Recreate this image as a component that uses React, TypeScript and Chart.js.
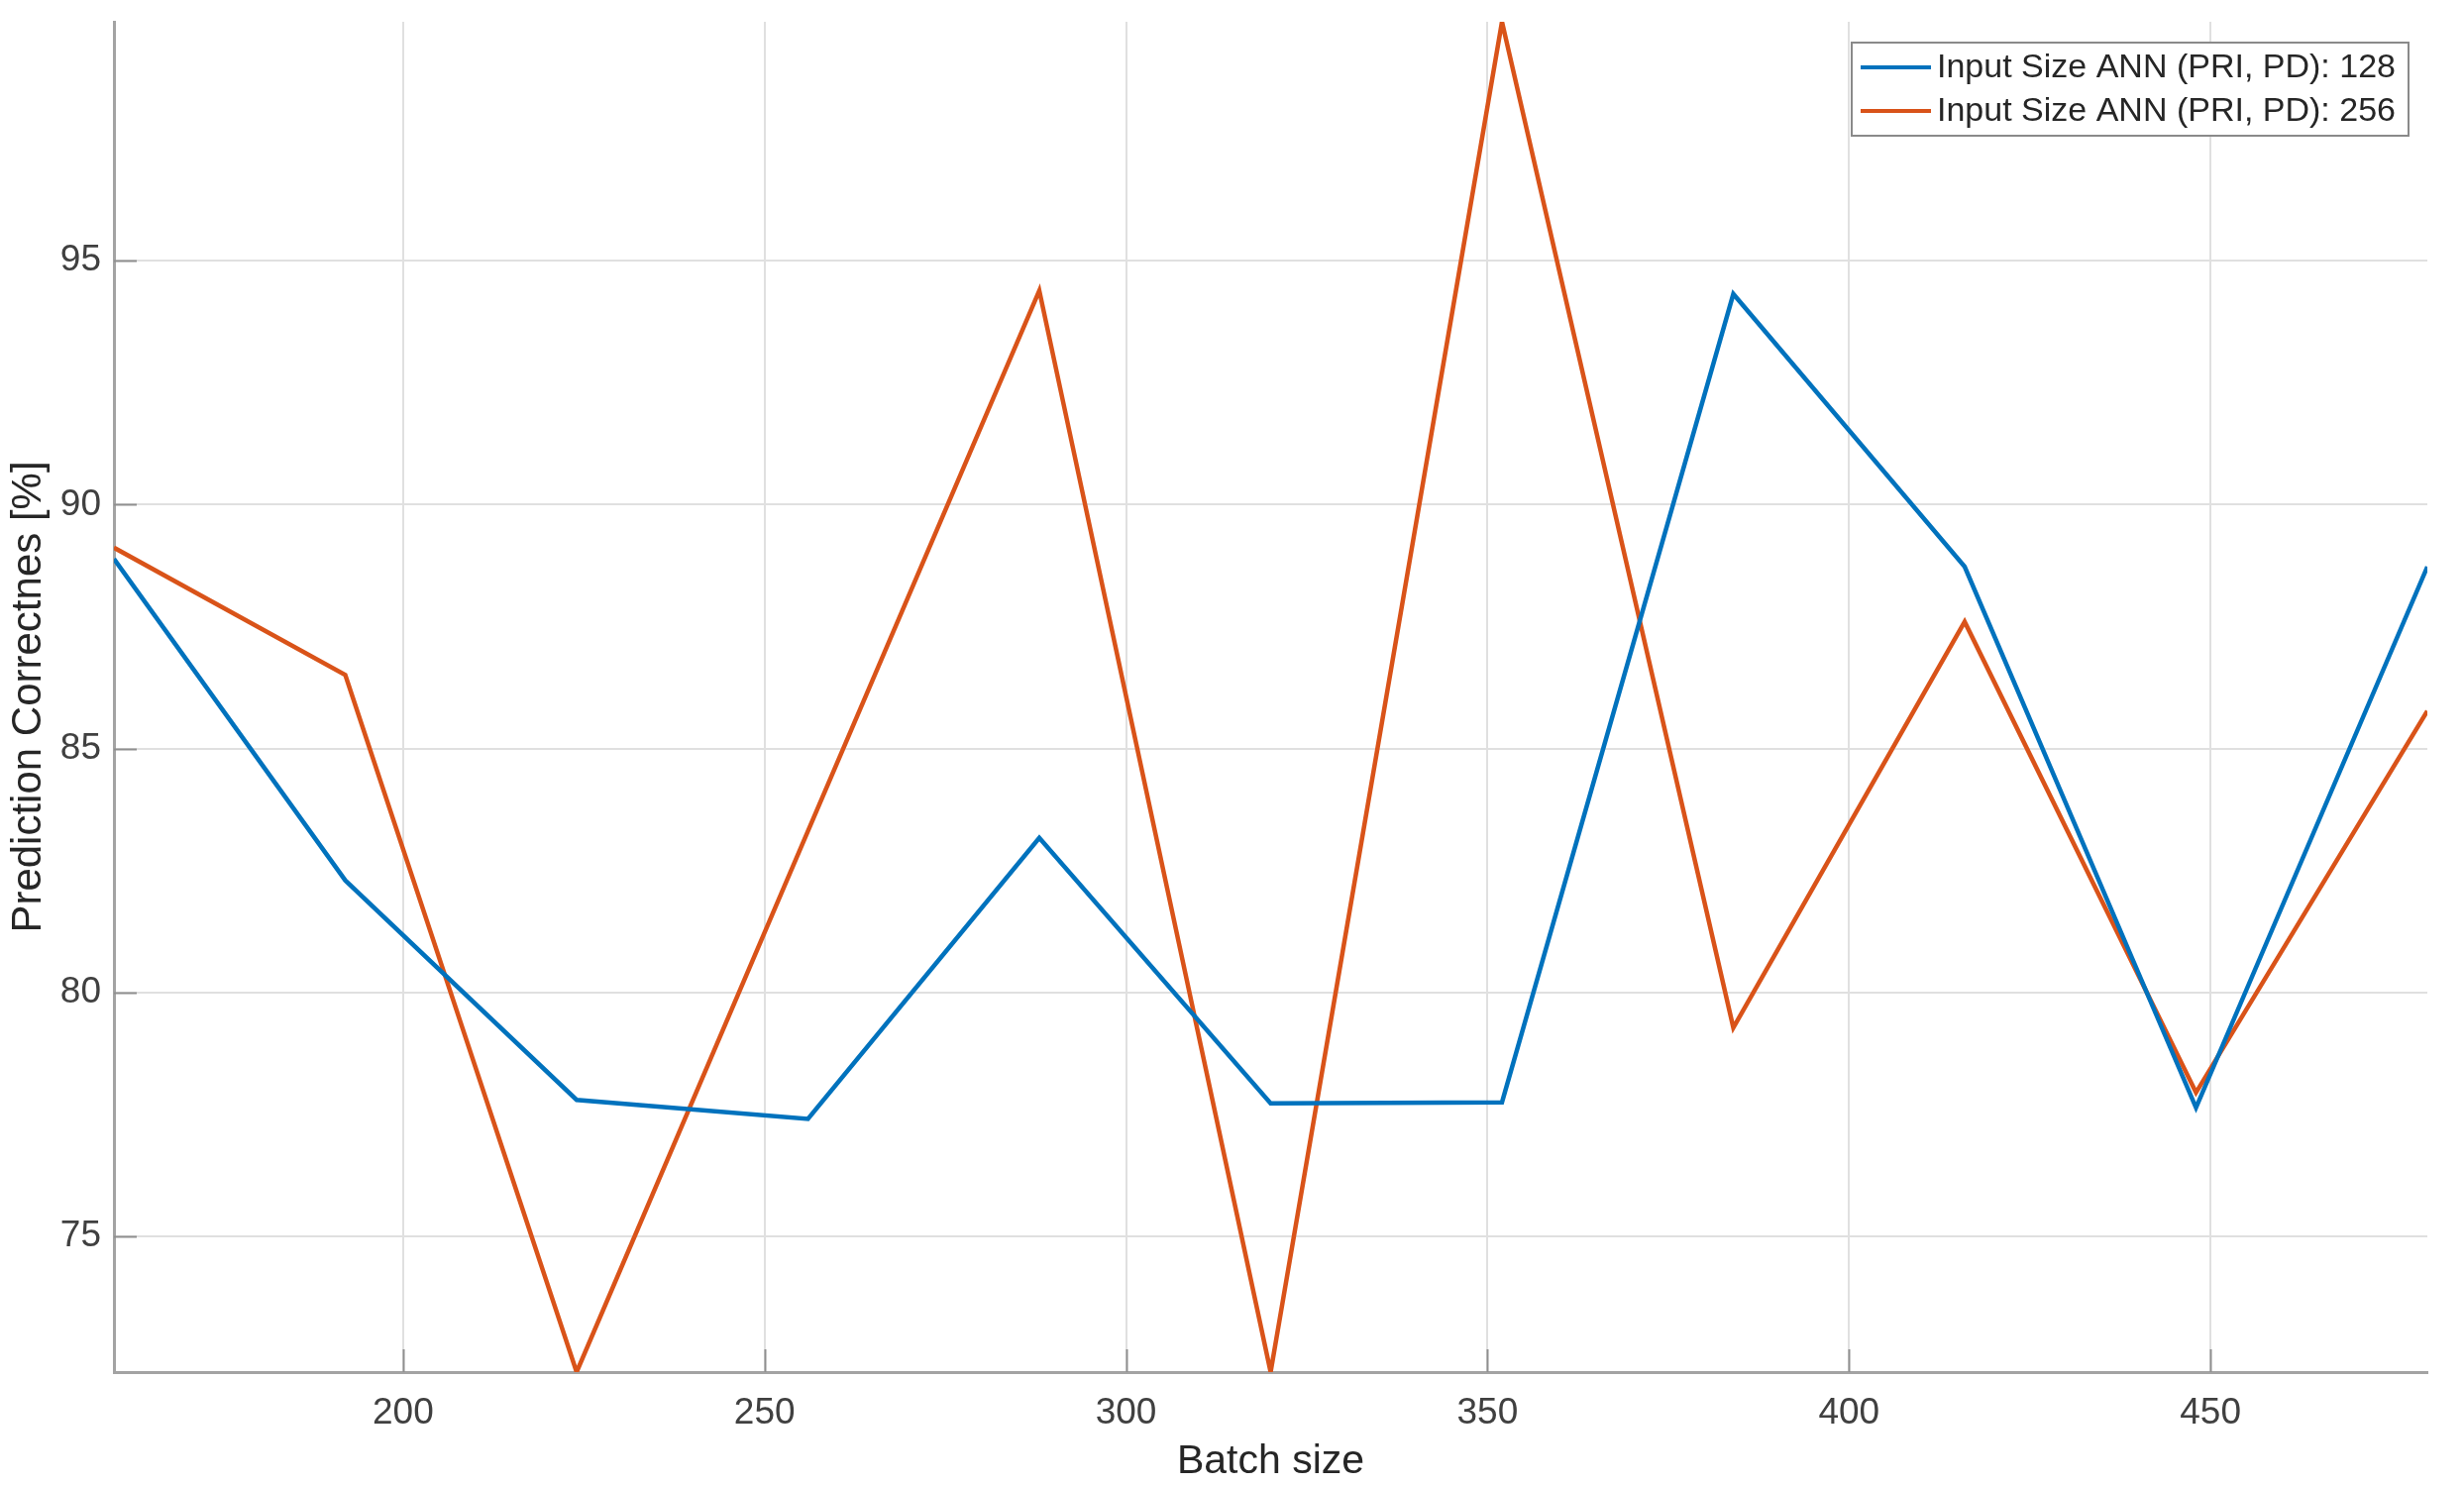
import React, { useEffect, useRef } from "react";
import { Chart, registerables } from "chart.js";

Chart.register(...registerables);

const batchSizes = [160, 192, 224, 256, 288, 320, 352, 384, 416, 448, 480];
const acc128 = [88.89, 82.3, 77.8, 77.41, 83.17, 77.73, 77.75, 94.32, 88.73, 77.64, 88.73];
const acc256 = [89.12, 86.51, 72.22, 83.31, 94.39, 72.22, 99.9, 79.28, 87.6, 77.95, 85.77];
const seriesLabels = ["Input Size ANN (PRI, PD): 128", "Input Size ANN (PRI, PD): 256"];
const seriesColors = ["#0072BD", "#D95319"];
const xTicks = [200, 250, 300, 350, 400, 450];
const yTicks = [75, 80, 85, 90, 95];
const xRange = [160, 480];
const yRange = [72.22, 99.9];
const xTitle = "Batch size";
const yTitle = "Prediction Correctnes [%]";

const FONT = "'Liberation Sans', Arial, Helvetica, sans-serif";

const innerTicks = {
  id: "innerTicks",
  afterDatasetsDraw(chart: any) {
    const { ctx, chartArea, scales } = chart;
    const x = scales.x;
    const y = scales.y;
    ctx.save();
    ctx.strokeStyle = "#8f8f8f";
    ctx.lineWidth = 2;
    ctx.beginPath();
    x.ticks.forEach((t: any) => {
      const px = Math.round(x.getPixelForValue(t.value)) + 0.5;
      ctx.moveTo(px, chartArea.bottom);
      ctx.lineTo(px, chartArea.bottom - 23);
    });
    y.ticks.forEach((t: any) => {
      const py = Math.round(y.getPixelForValue(t.value)) + 0.5;
      ctx.moveTo(chartArea.left, py);
      ctx.lineTo(chartArea.left + 23, py);
    });
    ctx.stroke();
    ctx.restore();
  },
};

const boxLegend = {
  id: "boxLegend",
  afterDraw(chart: any) {
    const { ctx } = chart;
    const left = 1869;
    const top = 43;
    const w = 562;
    const h = 94;
    ctx.save();
    ctx.fillStyle = "#ffffff";
    ctx.fillRect(left, top, w, h);
    ctx.strokeStyle = "#8a8a8a";
    ctx.lineWidth = 2;
    ctx.strokeRect(left, top, w, h);
    ctx.font = `34px ${FONT}`;
    ctx.textBaseline = "middle";
    ctx.textAlign = "left";
    chart.data.datasets.forEach((ds: any, i: number) => {
      const cy = top + 25 + i * 44;
      ctx.strokeStyle = ds.borderColor;
      ctx.lineWidth = 4;
      ctx.beginPath();
      ctx.moveTo(left + 9, cy);
      ctx.lineTo(left + 80, cy);
      ctx.stroke();
      ctx.fillStyle = "#262626";
      ctx.fillText(ds.label, left + 86, cy + 1);
    });
    ctx.restore();
  },
};

export default function App() {
  const ref = useRef<HTMLCanvasElement>(null);

  useEffect(() => {
    document.body.style.margin = "0";
    document.body.style.overflow = "hidden";
    const canvas = ref.current!;
    const chart = new Chart(canvas, {
      type: "line",
      data: {
        datasets: [acc128, acc256].map((vals, i) => ({
          label: seriesLabels[i],
          data: batchSizes.map((b, j) => ({ x: b, y: vals[j] })),
          borderColor: seriesColors[i],
          backgroundColor: seriesColors[i],
          borderWidth: 4.5,
          pointRadius: 0,
          tension: 0,
          fill: false,
        })),
      },
      options: {
        responsive: false,
        animation: false,
        layout: { padding: { top: 22, right: 37, left: 0, bottom: 0 } },
        plugins: {
          legend: { display: false },
          tooltip: { enabled: false },
        },
        scales: {
          x: {
            type: "linear",
            min: xRange[0],
            max: xRange[1],
            afterBuildTicks: (s: any) => {
              s.ticks = xTicks.map((v) => ({ value: v }));
            },
            afterFit: (s: any) => {
              s.height = 115;
              s.paddingLeft = 0;
              s.paddingRight = 0;
            },
            grid: { color: "#e0e0e0", lineWidth: 2, drawTicks: false },
            border: { display: true, color: "#a3a3a3", width: 3 },
            ticks: {
              padding: 20,
              color: "#404040",
              font: { size: 37, family: FONT },
              maxRotation: 0,
              callback: (v: any) => String(v),
            },
            title: {
              display: true,
              text: xTitle,
              color: "#262626",
              font: { size: 41, family: FONT },
              padding: { top: 0, bottom: 0 },
            },
          },
          y: {
            type: "linear",
            min: yRange[0],
            max: yRange[1],
            afterBuildTicks: (s: any) => {
              s.ticks = yTicks.map((v) => ({ value: v }));
            },
            afterFit: (s: any) => {
              s.width = 115;
              s.paddingTop = 0;
              s.paddingBottom = 0;
            },
            grid: { color: "#e0e0e0", lineWidth: 2, drawTicks: false },
            border: { display: true, color: "#a3a3a3", width: 3 },
            ticks: {
              padding: 13,
              color: "#404040",
              font: { size: 37, family: FONT },
              callback: (v: any) => String(v),
            },
            title: {
              display: true,
              text: yTitle,
              color: "#262626",
              font: { size: 42, family: FONT },
              padding: { top: 4, bottom: 0 },
            },
          },
        },
      },
      plugins: [innerTicks, boxLegend],
    });
    return () => chart.destroy();
  }, []);

  return (
    <div style={{ width: 2487, height: 1500 }}>
      <canvas ref={ref} width={2487} height={1500} style={{ display: "block" }} />
    </div>
  );
}
